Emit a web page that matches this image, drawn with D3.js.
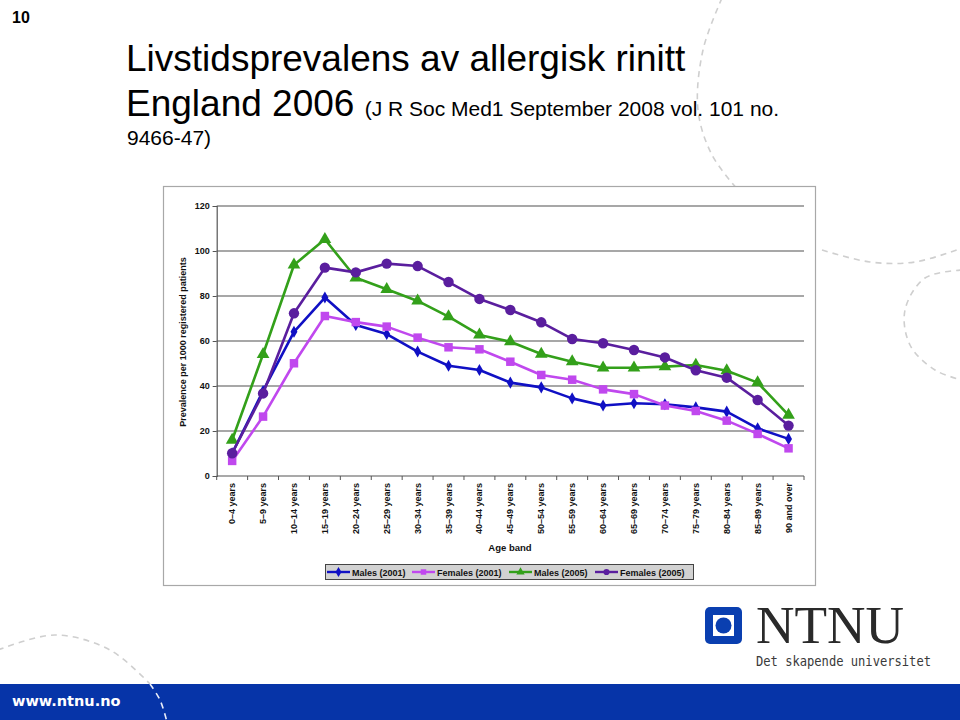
<!DOCTYPE html>
<html><head><meta charset="utf-8">
<script src="https://cdn.jsdelivr.net/npm/d3@7"></script>
<style>
html,body{margin:0;padding:0;background:#fff;}
svg{display:block;}
</style></head>
<body>
<svg id="c" width="960" height="720"></svg>
<script>
// ---- data ----
const categories = ["0–4 years","5–9 years","10–14 years","15–19 years","20–24 years","25–29 years","30–34 years","35–39 years","40–44 years","45–49 years","50–54 years","55–59 years","60–64 years","65–69 years","70–74 years","75–79 years","80–84 years","85–89 years","90 and over"];
const males2001   = [10.1,37.8,64.1,79.3,67.1,63.1,55.3,49.0,47.1,41.5,39.4,34.5,31.3,32.3,31.9,30.5,28.6,21.2,16.5];
const females2001 = [6.7,26.4,50.1,71.1,68.4,66.4,61.5,57.2,56.3,50.8,44.9,42.8,38.5,36.4,31.3,28.9,24.6,18.7,12.3];
const males2005   = [16.0,54.1,93.8,105.2,88.1,83.0,77.8,70.8,62.7,59.7,54.2,50.8,48.1,48.1,48.6,49.3,46.8,41.5,27.1];
const females2005 = [10.1,36.7,72.3,92.6,90.5,94.4,93.3,86.2,78.7,73.8,68.3,60.9,59.0,56.0,52.7,47.0,43.7,33.8,22.4];
const seriesNames = ["Males (2001)","Females (2001)","Males (2005)","Females (2005)"];
const yTicks = [0,20,40,60,80,100,120];

const seriesList = [
  {name: seriesNames[0], values: males2001,   color:"#1010c4", marker:"diamond"},
  {name: seriesNames[1], values: females2001, color:"#c048ee", marker:"square"},
  {name: seriesNames[2], values: males2005,   color:"#33a01a", marker:"triangle"},
  {name: seriesNames[3], values: females2005, color:"#5a1e9e", marker:"circle"}
];

const svg = d3.select("#c");
const FONT = "'Liberation Sans', Arial, Helvetica, sans-serif";

// ---- decorative dashed arcs ----
const deco = svg.append("g").attr("fill","none").attr("stroke","#cfcfcf").attr("stroke-width",1.6).attr("stroke-dasharray","6,5");
const curve = d3.line().curve(d3.curveCatmullRom);
deco.append("path").attr("d", curve([[722,-2],[703,50],[698,110],[712,155],[738,190]]));
deco.append("path").attr("d", curve([[822,250],[870,262],[915,262],[962,248]]));
deco.append("path").attr("d", curve([[962,270],[925,278],[905,310],[910,345],[935,370],[962,380]]));
deco.append("path").attr("d", curve([[-2,650],[55,635],[110,650],[150,684]]));

// ---- slide texts ----
svg.append("text").attr("x",12).attr("y",23).attr("font-family",FONT).attr("font-weight","bold").attr("font-size",16).attr("fill","#000").text("10");
svg.append("text").attr("x",126).attr("y",70.5).attr("font-family",FONT).attr("font-size",37).attr("fill","#000").text("Livstidsprevalens av allergisk rinitt");
const t2 = svg.append("text").attr("x",126).attr("y",115.5).attr("font-family",FONT).attr("fill","#000");
t2.append("tspan").attr("font-size",37).text("England 2006 ");
t2.append("tspan").attr("font-size",21).text("(J R Soc Med1 September 2008 vol. 101 no.");
svg.append("text").attr("x",127).attr("y",145).attr("font-family",FONT).attr("font-size",21).attr("fill","#000").text("9466-47)");

// ---- chart frame ----
svg.append("rect").attr("x",163.5).attr("y",186.5).attr("width",652).attr("height",399).attr("fill","#fff").attr("stroke","#a8a8a8").attr("stroke-width",1.2);

const x = d3.scaleBand().domain(categories).range([216.7, 804]).padding(0);
const y = d3.scaleLinear().domain([0,120]).range([476,206]);
const cx = c => x(c) + x.bandwidth()/2;

// gridlines
svg.append("g").selectAll("line").data(yTicks.filter(d=>d>0)).join("line")
  .attr("x1",x.range()[0]).attr("x2",x.range()[1])
  .attr("y1",d=>y(d)).attr("y2",d=>y(d))
  .attr("stroke","#8a8a8a").attr("stroke-width",1.3);

// y axis
const yAxis = svg.append("g").attr("transform",`translate(${x.range()[0]},0)`)
  .call(d3.axisLeft(y).tickValues(yTicks).tickSize(4).tickPadding(3));
yAxis.select(".domain").attr("stroke","#555").attr("stroke-width",1.2);
yAxis.selectAll(".tick line").attr("stroke","#555");
yAxis.selectAll("text").attr("font-family",FONT).attr("font-weight","bold").attr("font-size",9).attr("fill","#111");

// x axis
const xAxisG = svg.append("g");
xAxisG.append("line").attr("x1",x.range()[0]).attr("x2",x.range()[1]).attr("y1",y(0)).attr("y2",y(0)).attr("stroke","#555").attr("stroke-width",1.2);
const bounds = categories.map(c=>x(c)).concat([x.range()[1]]);
xAxisG.selectAll("line.tk").data(bounds).join("line").attr("class","tk")
  .attr("x1",d=>d).attr("x2",d=>d).attr("y1",y(0)).attr("y2",y(0)+4).attr("stroke","#555");
xAxisG.selectAll("text").data(categories).join("text")
  .attr("transform",c=>`translate(${cx(c)+3},${y(0)+7}) rotate(-90)`)
  .attr("text-anchor","end")
  .attr("font-family",FONT).attr("font-weight","bold").attr("font-size",9).attr("fill","#111")
  .text(c=>c);

// axis titles
svg.append("text").attr("x",510).attr("y",551).attr("text-anchor","middle")
  .attr("font-family",FONT).attr("font-weight","bold").attr("font-size",9.5).attr("fill","#111").text("Age band");
svg.append("text").attr("transform","translate(186,342) rotate(-90)").attr("text-anchor","middle")
  .attr("font-family",FONT).attr("font-weight","bold").attr("font-size",9).attr("fill","#111")
  .text("Prevalence per 1000 registered patients");

// markers
const symbolOf = t => t==="diamond"?d3.symbolDiamond:t==="square"?d3.symbolSquare:t==="triangle"?d3.symbolTriangle:d3.symbolCircle;
const sizeOf = {diamond:42, square:72, triangle:70, circle:85};

const line = d3.line().x((d,i)=>cx(categories[i])).y(d=>y(d));
seriesList.forEach(s=>{
  const g = svg.append("g");
  g.append("path").attr("d", line(s.values)).attr("fill","none").attr("stroke",s.color).attr("stroke-width",2.6).attr("stroke-linejoin","round");
  g.selectAll("path.m").data(s.values).join("path").attr("class","m")
    .attr("transform",(d,i)=>`translate(${cx(categories[i])},${y(d)})`)
    .attr("d", d3.symbol(symbolOf(s.marker), sizeOf[s.marker])()).attr("fill",s.color);
});

// legend
const lg = svg.append("g");
lg.append("rect").attr("x",325.5).attr("y",564.5).attr("width",368).attr("height",15).attr("fill","#d2d2d2").attr("stroke","#444").attr("stroke-width",1);
const legX = [327, 412, 509, 595];
seriesList.forEach((s,i)=>{
  const lx = legX[i];
  lg.append("line").attr("x1",lx).attr("x2",lx+23).attr("y1",572).attr("y2",572).attr("stroke",s.color).attr("stroke-width",2.4);
  lg.append("path").attr("transform",`translate(${lx+11.5},572)`).attr("d", d3.symbol(symbolOf(s.marker), 30)()).attr("fill",s.color);
  lg.append("text").attr("x",lx+25).attr("y",575.5).attr("font-family",FONT).attr("font-weight","bold").attr("font-size",9).attr("fill","#111").text(s.name);
});

// ---- bottom bar ----
svg.append("rect").attr("x",0).attr("y",684).attr("width",960).attr("height",36).attr("fill","#0634a8");
svg.append("path").attr("d", curve([[150,684],[160,700],[167,722]])).attr("fill","none").attr("stroke","#e8ecf8").attr("stroke-width",1.6).attr("stroke-dasharray","6,5");
svg.append("text").attr("x",12).attr("y",706).attr("font-family","'DejaVu Sans', Verdana, sans-serif").attr("font-weight","bold").attr("font-size",14.5).attr("fill","#fff").text("www.ntnu.no");

// ---- NTNU logo ----
const logo = svg.append("g");
logo.append("rect").attr("x",705).attr("y",607).attr("width",37).attr("height",37).attr("rx",5).attr("fill","#0a3fb0");
logo.append("rect").attr("x",713).attr("y",615).attr("width",21).attr("height",21).attr("fill","#fff");
logo.append("circle").attr("cx",723.5).attr("cy",625.5).attr("r",8).attr("fill","#0a3fb0");
logo.append("text").attr("x",756).attr("y",643).attr("font-family","'Liberation Serif','Times New Roman',serif").attr("font-size",52)
  .attr("textLength",148).attr("lengthAdjust","spacingAndGlyphs").attr("fill","#2a2a2a").text("NTNU");
logo.append("text").attr("x",756).attr("y",666).attr("font-family","'DejaVu Sans Mono', monospace").attr("font-size",14)
  .attr("textLength",175).attr("lengthAdjust","spacingAndGlyphs").attr("fill","#3a3a3a").text("Det skapende universitet");
</script>
</body></html>
